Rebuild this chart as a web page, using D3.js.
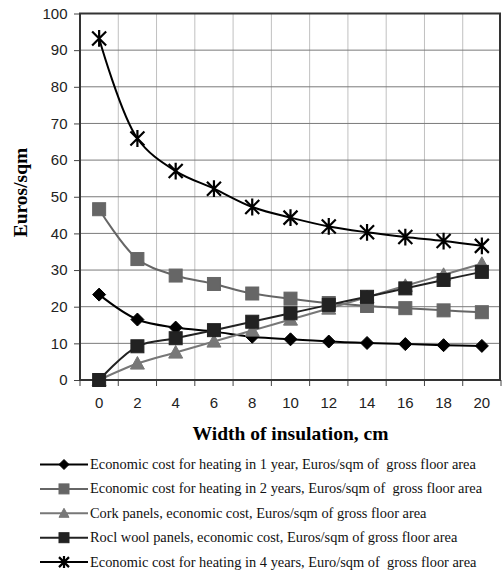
<!DOCTYPE html>
<html>
<head>
<meta charset="utf-8">
<script src="https://cdn.jsdelivr.net/npm/d3@7"></script>
<style>
  body { margin: 0; background: #fff; }
  svg { display: block; }
</style>
</head>
<body>
<div id="chart"></div>
<script>
// insulation width (cm) vs cost
const widths = [0, 2, 4, 6, 8, 10, 12, 14, 16, 18, 20];
const yTicks = [0, 10, 20, 30, 40, 50, 60, 70, 80, 90, 100];

const heat1yr = [23.3, 16.5, 14.3, 13.2, 11.8, 11.1, 10.5, 10.1, 9.8, 9.5, 9.3];
const heat2yr = [46.6, 33.0, 28.5, 26.2, 23.6, 22.2, 21.0, 20.2, 19.6, 19.0, 18.5];
const cork = [0, 4.5, 7.5, 10.5, 13.5, 16.5, 19.5, 22.6, 25.7, 28.7, 31.7];
const rockWool = [0, 9.2, 11.4, 13.6, 15.9, 18.2, 20.5, 22.7, 25.0, 27.3, 29.5];
const heat4yr = [93.2, 65.9, 57.0, 52.2, 47.2, 44.3, 41.9, 40.3, 39.0, 37.9, 36.6];

const labels = [
    "Economic cost for heating in 1 year, Euros/sqm of  gross floor area",
    "Economic cost for heating in 2 years, Euros/sqm of  gross floor area",
    "Cork panels, economic cost, Euros/sqm of gross floor area",
    "Rocl wool panels, economic cost, Euros/sqm of gross floor area",
    "Economic cost for heating in 4 years, Euro/sqm of  gross floor area"
];

const series = [
    { name: labels[0], values: heat1yr, color: "#000", marker: "diamond" },
    { name: labels[1], values: heat2yr, color: "#666", marker: "square" },
    { name: labels[2], values: cork, color: "#777", marker: "triangle" },
    { name: labels[3], values: rockWool, color: "#222", marker: "square" },
    { name: labels[4], values: heat4yr, color: "#000", marker: "star" }
];

const SERIF = '"Liberation Serif", "Times New Roman", serif';
const SANS = '"Liberation Sans", Arial, sans-serif';

const width = 503, height = 572;
const margin = { left: 80, right: 2, top: 13.5, bottom: 192 };

const svg = d3.select("#chart").append("svg")
    .attr("width", width)
    .attr("height", height);

const x = d3.scaleBand()
    .domain(widths)
    .range([margin.left, width - margin.right]);

const y = d3.scaleLinear()
    .domain([0, 100])
    .range([height - margin.bottom, margin.top]);

const cx = d => x(d) + x.bandwidth() / 2;

// gridlines
svg.append("g")
    .selectAll("line")
    .data(widths.slice(1))
    .join("line")
    .attr("x1", d => x(d)).attr("x2", d => x(d))
    .attr("y1", y(0)).attr("y2", y(100))
    .attr("stroke", "#c0c0c0")
    .attr("stroke-width", 1);

svg.append("g")
    .selectAll("line")
    .data(yTicks.slice(1, -1))
    .join("line")
    .attr("x1", x.range()[0]).attr("x2", x.range()[1])
    .attr("y1", d => y(d)).attr("y2", d => y(d))
    .attr("stroke", "#7a7a7a")
    .attr("stroke-width", 1);

// axes
const yAxis = svg.append("g")
    .attr("transform", `translate(${margin.left},0)`)
    .call(d3.axisLeft(y).tickValues(yTicks).tickSize(6).tickPadding(6.5));

const xAxis = svg.append("g")
    .attr("transform", `translate(0,${y(0)})`)
    .call(d3.axisBottom(x).tickSize(0).tickPadding(17));

// tick marks at category boundaries
xAxis.selectAll("line.bound")
    .data(widths.concat(["end"]))
    .join("line")
    .attr("class", "bound")
    .attr("x1", (d, i) => x.range()[0] + i * x.step())
    .attr("x2", (d, i) => x.range()[0] + i * x.step())
    .attr("y1", 0).attr("y2", 6)
    .attr("stroke", "#444");

[yAxis, xAxis].forEach(g => {
    g.select(".domain").remove();
    g.attr("font-family", null).attr("font-size", null);
    g.selectAll(".tick line").attr("stroke", "#444");
    g.selectAll("text")
        .style("font-family", SANS)
        .style("font-size", "15px")
        .attr("fill", "#222");
});

// plot frame
svg.append("rect")
    .attr("x", x.range()[0])
    .attr("y", y(100))
    .attr("width", x.range()[1] - x.range()[0] - 1)
    .attr("height", y(0) - y(100))
    .attr("fill", "none")
    .attr("stroke", "#333")
    .attr("stroke-width", 2);

// markers
function drawMarker(g, type, color, s) {
    if (type === "diamond") {
        g.append("path")
            .attr("d", `M0,${-s}L${s},0L0,${s}L${-s},0Z`)
            .attr("fill", color).attr("stroke", color).attr("stroke-width", 1);
    } else if (type === "square") {
        g.append("rect")
            .attr("x", -s).attr("y", -s)
            .attr("width", 2 * s).attr("height", 2 * s)
            .attr("fill", color).attr("stroke", color).attr("stroke-width", 1);
    } else if (type === "triangle") {
        g.append("path")
            .attr("d", `M0,${-s}L${s},${s * 0.8}L${-s},${s * 0.8}Z`)
            .attr("fill", color).attr("stroke", color).attr("stroke-width", 1);
    } else if (type === "star") {
        const r = s;
        g.append("path")
            .attr("d", `M${-r},${-r}L${r},${r}M${-r},${r}L${r},${-r}M0,${-r * 1.2}L0,${r * 1.2}`)
            .attr("stroke", color).attr("stroke-width", 2.2).attr("fill", "none");
    }
}

const line = d3.line()
    .x((d, i) => cx(widths[i]))
    .y(d => y(d))
    .curve(d3.curveCatmullRom.alpha(0.5));

const sizes = { diamond: 6.5, square: 6.5, triangle: 7, star: 7 };

series.forEach(s => {
    svg.append("path")
        .datum(s.values)
        .attr("d", line)
        .attr("fill", "none")
        .attr("stroke", s.color)
        .attr("stroke-width", 2);
});

series.forEach(s => {
    s.values.forEach((v, i) => {
        const g = svg.append("g")
            .attr("transform", `translate(${cx(widths[i])},${y(v)})`);
        drawMarker(g, s.marker, s.color, sizes[s.marker]);
    });
});

// axis titles
svg.append("text")
    .attr("transform", "translate(27,192.5) rotate(-90)")
    .attr("text-anchor", "middle")
    .style("font-family", SERIF)
    .style("font-weight", "bold")
    .style("font-size", "19.5px")
    .text("Euros/sqm");

svg.append("text")
    .attr("x", (x.range()[0] + x.range()[1]) / 2)
    .attr("y", 440)
    .attr("text-anchor", "middle")
    .style("font-family", SERIF)
    .style("font-weight", "bold")
    .style("font-size", "19.5px")
    .text("Width of insulation, cm");

// legend
const legend = svg.append("g");
series.forEach((s, i) => {
    const ly = 464.5 + i * 24.4;
    const g = legend.append("g").attr("transform", `translate(0,${ly})`);
    g.append("line")
        .attr("x1", 40).attr("x2", 88)
        .attr("stroke", s.color).attr("stroke-width", 2);
    const m = g.append("g").attr("transform", "translate(64,0)");
    drawMarker(m, s.marker, s.color, 5);
    g.append("text")
        .attr("x", 90)
        .attr("y", 4.5)
        .style("font-family", SERIF)
        .style("font-size", "14.4px")
        .style("white-space", "pre")
        .attr("fill", "#111")
        .text(s.name);
});
</script>
</body>
</html>
